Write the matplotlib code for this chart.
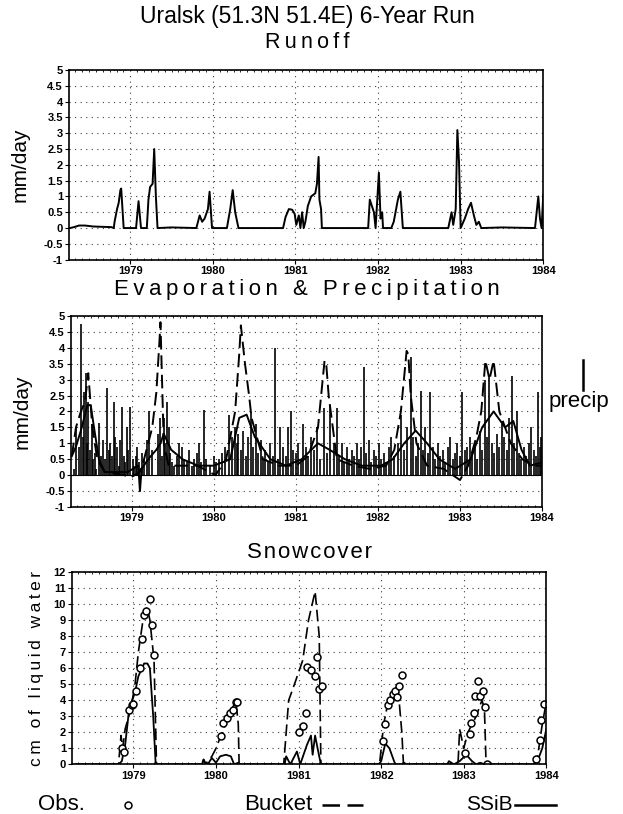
import numpy as np
import matplotlib
matplotlib.use('Agg')
import matplotlib.pyplot as plt
from matplotlib.lines import Line2D
from matplotlib import ticker

plt.rcParams['font.family'] = ['Liberation Sans Narrow', 'Liberation Sans', 'DejaVu Sans']

# ---- runoff (mm/day), time in decimal years
runT = [1978.27, 1978.32, 1978.38, 1978.45, 1978.55, 1978.65, 1978.77, 1978.80, 1978.81, 1978.84, 1978.86,
        1978.88, 1978.89, 1978.92, 1979.07, 1979.10, 1979.13, 1979.20, 1979.22, 1979.24, 1979.27, 1979.29,
        1979.31, 1979.33, 1979.50, 1979.80, 1979.84, 1979.87, 1979.90, 1979.94, 1979.96, 1979.99, 1980.17,
        1980.21, 1980.24, 1980.27, 1980.31, 1980.85, 1980.88, 1980.92, 1980.96, 1980.99, 1981.01, 1981.04,
        1981.06, 1981.08, 1981.10, 1981.12, 1981.15, 1981.19, 1981.24, 1981.26, 1981.28, 1981.29, 1981.31,
        1981.32, 1981.34, 1981.88, 1981.90, 1981.95, 1981.97, 1982.01, 1982.03, 1982.05, 1982.06, 1982.16,
        1982.19, 1982.24, 1982.27, 1982.30, 1982.85, 1982.89, 1982.91, 1982.94, 1982.96, 1982.98, 1983.00,
        1983.05, 1983.09, 1983.125, 1983.16, 1983.19, 1983.22, 1983.25, 1983.50, 1983.90, 1983.94, 1983.96,
        1983.98, 1984.0]
runV = [0.0, 0.03, 0.08, 0.08, 0.05, 0.04, 0.03, 0.0, 0.2, 0.6, 0.8,
        1.2, 1.25, 0.0, 0.0, 0.85, 0.0, 0.0, 0.9, 1.3, 1.4, 2.5,
        1.0, 0.0, 0.02, 0.0, 0.4, 0.2, 0.3, 0.6, 1.15, 0.0, 0.0,
        0.6, 1.2, 0.5, 0.0, 0.0, 0.35, 0.6, 0.58, 0.45, 0.1, 0.4,
        0.0, 0.5, 0.0, 0.2, 0.7, 1.0, 1.1, 1.4, 2.25, 0.9, 0.6,
        0.0, 0.0, 0.0, 0.9, 0.5, 0.0, 1.75, 0.3, 0.5, 0.0, 0.0,
        0.2, 0.9, 1.15, 0.0, 0.0, 0.5, 0.1, 0.6, 3.1, 2.1, 0.0,
        0.3, 0.6, 0.8, 0.4, 0.1, 0.2, 0.0, 0.02, 0.0, 1.0, 0.3,
        0.0, 1.05]

# ---- precipitation bars (mm/day)
prT = [1978.30, 1978.32, 1978.36, 1978.38, 1978.40, 1978.42, 1978.44, 1978.46, 1978.47, 1978.49, 1978.51,
       1978.53, 1978.55, 1978.57, 1978.60, 1978.62, 1978.65, 1978.68, 1978.70, 1978.72, 1978.74, 1978.76,
       1978.78, 1978.80, 1978.82, 1978.84, 1978.86, 1978.88, 1978.90, 1978.92, 1978.94, 1978.96, 1978.98,
       1979.01, 1979.03, 1979.05, 1979.07, 1979.09, 1979.12, 1979.15, 1979.18, 1979.21, 1979.25, 1979.32,
       1979.35, 1979.37, 1979.39, 1979.41, 1979.43, 1979.45, 1979.47, 1979.49, 1979.52, 1979.55, 1979.58,
       1979.61, 1979.64, 1979.67, 1979.70, 1979.73, 1979.76, 1979.79, 1979.82, 1979.85, 1979.88, 1979.91,
       1979.95, 1980.00, 1980.03, 1980.06, 1980.10, 1980.14, 1980.18, 1980.22, 1980.26, 1980.28, 1980.30,
       1980.33, 1980.36, 1980.39, 1980.42, 1980.45, 1980.48, 1980.51, 1980.54, 1980.57, 1980.60, 1980.63,
       1980.66, 1980.69, 1980.72, 1980.75, 1980.78, 1980.81, 1980.84, 1980.88, 1980.91, 1980.94, 1980.97,
       1981.00, 1981.03, 1981.06, 1981.09, 1981.12, 1981.15, 1981.18, 1981.22, 1981.26, 1981.30, 1981.34,
       1981.38, 1981.42, 1981.46, 1981.50, 1981.53, 1981.56, 1981.59, 1981.62, 1981.65, 1981.68, 1981.71,
       1981.74, 1981.77, 1981.80, 1981.83, 1981.86, 1981.89, 1981.92, 1981.95, 1981.98, 1982.01, 1982.04,
       1982.07, 1982.10, 1982.13, 1982.16, 1982.20, 1982.24, 1982.28, 1982.32, 1982.36, 1982.40, 1982.43,
       1982.46, 1982.49, 1982.52, 1982.55, 1982.58, 1982.61, 1982.64, 1982.67, 1982.70, 1982.73, 1982.76,
       1982.79, 1982.82, 1982.85, 1982.88, 1982.91, 1982.94, 1982.97, 1983.00, 1983.03, 1983.06, 1983.09,
       1983.12, 1983.15, 1983.18, 1983.21, 1983.24, 1983.27, 1983.30, 1983.33, 1983.36, 1983.39, 1983.42,
       1983.45, 1983.48, 1983.51, 1983.54, 1983.57, 1983.60, 1983.63, 1983.66, 1983.69, 1983.72, 1983.75,
       1983.78, 1983.81, 1983.84, 1983.87, 1983.90, 1983.93, 1983.95, 1983.97, 1983.99]
prV = [0.2, 1.5, 0.9, 4.75, 1.2, 2.6, 3.2, 1.0, 2.3, 0.8, 1.6,
       0.5, 0.7, 0.2, 1.65, 0.6, 1.1, 0.5, 2.75, 0.8, 1.0, 0.6,
       2.3, 1.2, 0.9, 0.3, 1.1, 2.15, 0.6, 0.4, 1.5, 0.8, 2.15,
       0.5, 0.3, 0.6, 0.9, 0.4, 0.7, 0.5, 1.1, 2.0, 0.8, 1.3,
       1.8, 0.6, 1.8, 1.0, 2.3, 1.5, 0.7, 0.4, 0.3, 0.6, 1.0,
       0.9, 0.5, 0.4, 0.8, 0.3, 0.5, 0.7, 1.0, 0.4, 2.05, 0.5,
       0.3, 0.6, 0.4, 0.5, 0.7, 0.9, 1.9, 1.2, 1.5, 1.0, 1.3,
       0.8, 1.4, 0.6, 1.2, 1.95, 0.9, 1.6, 0.7, 1.1, 0.5, 0.8,
       0.4, 1.0, 0.6, 4.0, 0.5, 1.5, 0.9, 0.6, 1.5, 2.0, 0.8,
       0.7, 1.0, 0.5, 1.6, 0.9, 0.6, 1.2, 0.8, 1.5, 0.5, 2.1,
       0.7, 2.2, 1.0, 2.1, 0.6, 1.0, 0.4, 0.9, 0.5, 0.8, 0.6,
       1.0, 0.5, 0.9, 3.4, 0.7, 1.1, 0.4, 0.8, 0.6, 1.0, 0.5,
       0.7, 0.4, 0.9, 1.2, 0.6, 1.0, 1.9, 0.8, 1.5, 3.7, 1.2,
       0.6, 1.0, 2.65, 0.8, 1.5, 0.7, 2.6, 0.9, 0.5, 1.0, 0.6,
       0.8, 0.4, 0.9, 1.2, 0.5, 0.7, 1.0, 0.6, 2.6, 0.8, 0.9,
       1.2, 0.7, 1.0, 0.5, 1.4, 0.8, 3.0, 1.2, 3.1, 1.0, 0.7,
       1.3, 0.9, 1.6, 1.2, 0.8, 1.8, 3.1, 1.0, 2.0, 0.7, 0.5,
       0.9, 0.6, 1.0, 1.5, 0.8, 0.6, 2.6, 0.9, 1.2]

# ---- evaporation, bucket model (dashed) and SSiB (solid)
evbT = [1978.27, 1978.32, 1978.38, 1978.43, 1978.47, 1978.52, 1978.58, 1978.67, 1978.80, 1978.91, 1979.00,
        1979.10, 1979.15, 1979.25, 1979.30, 1979.34, 1979.35, 1979.39, 1979.45, 1979.60, 1979.80, 1980.02,
        1980.15, 1980.26, 1980.31, 1980.33, 1980.38, 1980.43, 1980.46, 1980.60, 1980.80, 1981.00, 1981.15,
        1981.27, 1981.35, 1981.37, 1981.40, 1981.50, 1981.70, 1981.90, 1982.10, 1982.20, 1982.28, 1982.35,
        1982.37, 1982.40, 1982.47, 1982.60, 1982.80, 1983.00, 1983.10, 1983.20, 1983.26, 1983.31, 1983.36,
        1983.41, 1983.48, 1983.62, 1983.76, 1983.90, 1984.0]
evbV = [0.6, 1.5, 2.0, 2.3, 3.2, 1.5, 0.5, 0.1, 0.05, 0.0, -0.05,
        0.1, 0.5, 1.5, 2.6, 4.3, 4.8, 1.0, 0.3, 0.3, 0.3, 0.0,
        0.5, 2.0, 3.8, 4.7, 3.5, 2.5, 1.8, 0.5, 0.3, 0.3, 0.6,
        1.5, 3.6, 3.5, 2.5, 0.5, 0.3, 0.2, 0.3, 0.8, 2.0, 3.9,
        3.8, 2.5, 1.0, 0.3, 0.2, -0.15, 0.3, 1.2, 2.0, 3.6, 3.0,
        3.6, 2.0, 1.0, 0.5, 0.3, 0.3]
evsT = [1978.27, 1978.32, 1978.38, 1978.46, 1978.50, 1978.54, 1978.60, 1978.67, 1978.80, 1978.95, 1979.08,
        1979.10, 1979.12, 1979.20, 1979.30, 1979.35, 1979.39, 1979.48, 1979.62, 1979.81, 1980.00, 1980.20,
        1980.31, 1980.40, 1980.50, 1980.69, 1980.88, 1981.07, 1981.27, 1981.41, 1981.60, 1981.80, 1982.04,
        1982.18, 1982.32, 1982.46, 1982.60, 1982.75, 1982.94, 1983.13, 1983.27, 1983.41, 1983.55, 1983.65,
        1983.75, 1983.85, 1984.0]
evsV = [0.6, 0.9, 1.4, 2.2, 2.2, 1.5, 0.5, 0.1, 0.1, 0.1, 0.3,
        -0.5, 0.2, 0.5, 0.8, 1.0, 1.3, 0.8, 0.5, 0.3, 0.3, 0.5,
        1.8, 1.9, 1.2, 0.5, 0.3, 0.5, 1.0, 0.8, 0.5, 0.3, 0.3,
        0.5, 1.0, 1.4, 1.0, 0.5, 0.2, 0.5, 1.5, 2.0, 1.5, 1.7,
        0.8, 0.3, 0.4]

# ---- snowcover (cm of liquid water)
obsT = [1978.86, 1978.89, 1978.95, 1978.98, 1979.00, 1979.03, 1979.08, 1979.11, 1979.13, 1979.15, 1979.20,
        1979.23, 1979.25, 1980.06, 1980.09, 1980.13, 1980.17, 1980.20, 1980.24, 1980.26, 1981.00, 1981.05,
        1981.09, 1981.10, 1981.15, 1981.20, 1981.22, 1981.25, 1981.28, 1982.02, 1982.05, 1982.08, 1982.11,
        1982.14, 1982.17, 1982.19, 1982.21, 1982.25, 1983.02, 1983.07, 1983.09, 1983.12, 1983.14, 1983.17,
        1983.20, 1983.23, 1983.26, 1983.28, 1983.88, 1983.92, 1983.94, 1983.97]
obsV = [1.0, 0.75, 3.4, 3.7, 3.8, 4.6, 6.0, 7.8, 9.3, 9.6, 10.3,
        8.7, 6.8, 1.8, 2.6, 2.9, 3.2, 3.4, 3.9, 3.9, 2.0, 2.4,
        3.2, 6.1, 5.9, 5.5, 6.7, 4.7, 4.9, 1.45, 2.5, 3.7, 4.0,
        4.4, 4.6, 4.2, 4.9, 5.6, 0.7, 1.9, 2.6, 3.2, 4.3, 5.2,
        4.3, 4.6, 3.6, 0.0, 0.35, 1.5, 2.8, 3.8]

bucT = [1978.30, 1978.82, 1978.85, 1978.87, 1978.90, 1978.97, 1979.02, 1979.06, 1979.13, 1979.17, 1979.20,
        1979.25, 1979.28, 1979.83, 1979.85, 1979.87, 1979.95, 1980.00, 1980.06, 1980.24, 1980.27, 1980.28,
        1980.82, 1980.88, 1980.95, 1981.05, 1981.12, 1981.20, 1981.25, 1981.27, 1981.98, 1982.03, 1982.08,
        1982.20, 1982.25, 1982.27, 1982.93, 1982.95, 1983.00, 1983.05, 1983.15, 1983.22, 1983.25, 1983.27,
        1983.88, 1983.95, 1984.0]
bucV = [0.0, 0.0, 1.8, 1.0, 2.2, 3.5, 5.0, 7.0, 9.5, 9.8, 9.0,
        6.5, 0.0, 0.0, 0.3, 0.0, 0.5, 1.0, 1.8, 4.0, 2.5, 0.0,
        0.0, 4.0, 5.0, 6.5, 9.0, 10.8, 8.0, 0.0, 0.0, 2.5, 3.8,
        5.0, 2.0, 0.0, 0.0, 2.2, 1.0, 2.0, 3.0, 4.0, 3.5, 0.0,
        0.0, 2.5, 3.9]
ssibT = [1978.30, 1978.82, 1978.86, 1978.90, 1978.95, 1979.02, 1979.06, 1979.13, 1979.17, 1979.20, 1979.24,
         1979.27, 1979.83, 1979.85, 1979.88, 1979.90, 1979.95, 1980.00, 1980.05, 1980.12, 1980.18, 1980.22,
         1980.27, 1980.30, 1980.83, 1980.85, 1980.90, 1980.98, 1981.02, 1981.10, 1981.15, 1981.17, 1981.20,
         1981.23, 1981.27, 1981.97, 1982.00, 1982.05, 1982.10, 1982.17, 1982.26, 1982.28, 1982.30, 1982.80,
         1982.82, 1982.88, 1982.95, 1983.03, 1983.10, 1983.15, 1983.20, 1983.25, 1983.86, 1983.90, 1983.95,
         1984.0]
ssibV = [0.0, 0.0, 0.2, 1.2, 3.5, 4.5, 5.5, 6.3, 6.3, 6.0, 3.0,
         0.0, 0.0, 0.3, 0.0, 0.0, 0.4, 0.1, 0.5, 0.6, 0.5, 0.0,
         0.1, 0.0, 0.0, 0.5, 0.0, 0.8, 0.0, 1.2, 1.8, 0.6, 1.8,
         1.0, 0.0, 0.0, 0.2, 1.3, 1.0, 0.0, 0.0, 0.1, 0.0, 0.0,
         0.2, 0.0, 0.2, 0.6, 0.2, 0.0, 0.1, 0.0, 0.0, 0.3, 1.0,
         2.2]

years = [1979, 1980, 1981, 1982, 1983, 1984]
xlo, xhi = 1978.26, 1984.0


def spaced(s, sep='\u2009'):
    return sep.join(s)


def style_axes(ax, ylo, yhi, ystep):
    ax.set_xlim(xlo, xhi)
    ax.set_ylim(ylo, yhi)
    ax.set_xticks(years)
    ax.set_xticklabels([str(y) for y in years])
    ax.set_yticks(np.arange(ylo, yhi + ystep / 2, ystep))
    ax.yaxis.set_major_formatter(ticker.FuncFormatter(lambda v, p: '%g' % v))
    ax.xaxis.set_minor_locator(ticker.MultipleLocator(1 / 12))
    ax.tick_params(axis='both', labelsize=8, length=3, width=0.8, pad=1.5)
    ax.tick_params(axis='x', which='minor', length=1.5, top=True, direction='in')
    for lab in ax.get_xticklabels() + ax.get_yticklabels():
        lab.set_fontweight('bold')
    ax.grid(True, which='major', color='0.25', linestyle=(0, (1, 4)), linewidth=0.8)
    for s in ax.spines.values():
        s.set_linewidth(1.2)


def fy(py):
    return 1 - py / 814


fig = plt.figure(figsize=(6.23, 8.14), dpi=100)

# Runoff
ax1 = fig.add_axes([0.111, 0.681, 0.761, 0.233])
ax1.plot(runT, runV, color='k', linewidth=1.4)
style_axes(ax1, -1, 5, 0.5)
ax1.set_ylabel('mm/day', fontsize=15, labelpad=10)

# Evaporation & precipitation
ax2 = fig.add_axes([0.114, 0.377, 0.756, 0.235])
ax2.vlines(prT, 0, prV, color='k', linewidth=1.2)
ax2.plot(evbT, evbV, color='k', linewidth=1.4, linestyle=(0, (7, 3)))
ax2.plot(evsT, evsV, color='k', linewidth=1.4)
ax2.axhline(0, color='k', linewidth=0.8)
style_axes(ax2, -1, 5, 0.5)
ax2.set_ylabel('mm/day', fontsize=15, labelpad=10)

# Snowcover
ax3 = fig.add_axes([0.116, 0.061, 0.761, 0.236])
ax3.plot(bucT, bucV, color='k', linewidth=1.2, linestyle=(0, (7, 3)))
ax3.plot(ssibT, ssibV, color='k', linewidth=1.3)
ax3.plot(obsT, obsV, linestyle='none', marker='o', markersize=5, markerfacecolor='white',
         markeredgecolor='k', markeredgewidth=1.1)
style_axes(ax3, 0, 12, 1)
ax3.set_ylabel(spaced('cm of liquid water'), fontsize=12.5, labelpad=7)

# titles
fig.text(0.493, fy(16), 'Uralsk (51.3N 51.4E) 6-Year Run', ha='center', va='center', fontsize=16.5)
fig.text(0.493, fy(42), spaced('Runoff'), ha='center', va='center', fontsize=15.5)
fig.text(0.493, fy(290), spaced('Evaporation & Precipitation'), ha='center', va='center', fontsize=16)
fig.text(0.496, fy(553), spaced('Snowcover', '\u200a'), ha='center', va='center', fontsize=16)

# precip key
fig.add_artist(Line2D([583 / 623, 583 / 623], [fy(390), fy(360)], color='k', linewidth=1.8))
fig.text(549 / 623, fy(402), 'precip', ha='left', va='center', fontsize=16)

# bottom legend
ly = fy(805)
fig.text(38 / 623, ly, 'Obs.', ha='left', va='center', fontsize=16)
fig.add_artist(Line2D([128 / 623], [ly], marker='o', markersize=5, markerfacecolor='white',
                      markeredgecolor='k', markeredgewidth=1.1))
fig.text(244 / 623, ly, 'Bucket', ha='left', va='center', fontsize=16)
fig.add_artist(Line2D([322 / 623, 363 / 623], [ly, ly], color='k', linewidth=1.8, linestyle=(0, (7, 3))))
fig.text(466 / 623, ly, 'SSiB', ha='left', va='center', fontsize=15)
fig.add_artist(Line2D([515 / 623, 556 / 623], [ly, ly], color='k', linewidth=1.8))

fig.savefig('out.png', dpi=100)
